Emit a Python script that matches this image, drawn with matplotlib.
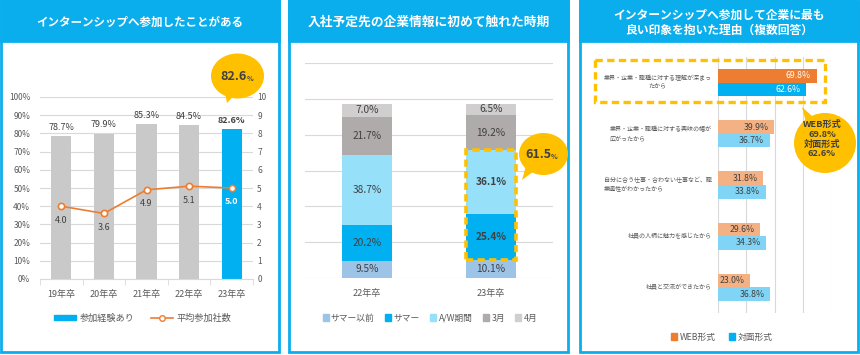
import numpy as np
import matplotlib.pyplot as plt
from matplotlib.patches import Rectangle, Ellipse, Polygon, Patch
from matplotlib.lines import Line2D

plt.rcParams["font.family"] = ["Noto Sans CJK JP", "DejaVu Sans"]

# panel 1: participation rate and avg. number of companies
years1 = ["19年卒", "20年卒", "21年卒", "22年卒", "23年卒"]
exp_rate = [78.7, 79.9, 85.3, 84.5, 82.6]
avg_companies = [4.0, 3.6, 4.9, 5.1, 5.0]

# panel 2: timing of first contact (stacked)
years2 = ["22年卒", "23年卒"]
periods = ["サマー以前", "サマー", "A/W期間", "3月", "4月"]
before_summer = [9.5, 10.1]
summer = [20.2, 25.4]
aw_period = [38.7, 36.1]
march = [21.7, 19.2]
april = [7.0, 6.5]

# panel 3: reasons (multiple answers)
reasons = [
    "業界・企業・職種に対する理解が深まっ\nたから",
    "業界・企業・職種に対する興味の幅が\n広がったから",
    "自分に合う仕事・合わない仕事など、職\n業適性がわかったから",
    "社員の人柄に魅力を感じたから",
    "社員と交流ができたから",
]
web = [69.8, 39.9, 31.8, 29.6, 23.0]
face = [62.6, 36.7, 33.8, 34.3, 36.8]

W, H = 860, 355
BLUE = "#0AAEEC"
GOLD = "#FFC000"
ORANGE = "#ED7D31"
CYAN = "#00B0F0"
TXT = "#595959"
DARK = "#404040"
GRID = "#D9D9D9"

fig = plt.figure(figsize=(W / 100, H / 100), dpi=100)


def px_axes(x0, y0, x1, y1, **kw):
    return fig.add_axes([x0 / W, 1 - y1 / H, (x1 - x0) / W, (y1 - y0) / H], **kw)


def fig_pt(x, y):
    return (x / W, 1 - y / H)


bg = fig.add_axes([0, 0, 1, 1], zorder=0)
bg.set_xlim(0, W)
bg.set_ylim(H, 0)
bg.axis("off")

ov = fig.add_axes([0, 0, 1, 1], zorder=10)
ov.set_xlim(0, W)
ov.set_ylim(H, 0)
ov.axis("off")
ov.patch.set_alpha(0)

panels = [(1, 279, ["インターンシップへ参加したことがある"], 8.3),
          (289, 568, ["入社予定先の企業情報に初めて触れた時期"], 9.2),
          (580, 858, ["インターンシップへ参加して企業に最も", "良い印象を抱いた理由（複数回答）"], 8.5)]
for x0, x1, title, fs in panels:
    bg.add_patch(Rectangle((x0, 1), x1 - x0, 351, fc="white", ec=BLUE, lw=2))
    bg.add_patch(Rectangle((x0, 1), x1 - x0, 40, fc=BLUE, ec=BLUE, lw=2))
    if len(title) == 1:
        bg.text((x0 + x1) / 2, 22, title[0], ha="center", va="center",
                color="white", fontsize=fs, fontweight="bold")
    else:
        bg.text((x0 + x1) / 2, 15, title[0], ha="center", va="center",
                color="white", fontsize=fs, fontweight="bold")
        bg.text((x0 + x1) / 2, 30, title[1], ha="center", va="center",
                color="white", fontsize=fs, fontweight="bold")


def bubble(cx, cy, w, h, tip, spread=14):
    ov.add_patch(Ellipse((cx, cy), w, h, fc=GOLD, ec="none"))
    ang = np.degrees(np.arctan2(tip[1] - cy, tip[0] - cx))
    pts = []
    for a in (ang - spread, ang + spread):
        r = np.radians(a)
        pts.append((cx + 0.42 * w * np.cos(r), cy + 0.42 * h * np.sin(r)))
    ov.add_patch(Polygon([pts[0], tip, pts[1]], closed=True, fc=GOLD, ec="none"))


# ---------------- panel 1 ----------------
ax1 = px_axes(40, 97, 253, 279, zorder=2)
ax1.patch.set_alpha(0)
x1 = np.arange(len(years1))
cols1 = ["#C9C9C9"] * (len(years1) - 1) + [CYAN]
ax1.bar(x1, exp_rate, width=0.47, color=cols1, zorder=2)
ax1.set_xlim(-0.5, len(years1) - 0.5)
ax1.set_ylim(0, 100)
ax1.set_yticks(range(0, 101, 10))
ax1.set_yticklabels([f"{v}%" for v in range(0, 101, 10)])
ax1.grid(axis="y", color=GRID, lw=0.8, zorder=0)
ax1.set_axisbelow(True)
for s in ["top", "right", "left"]:
    ax1.spines[s].set_visible(False)
ax1.spines["bottom"].set_color(GRID)
ax1.set_xticks(x1)
ax1.set_xticklabels(years1)
ax1.set_xticks(np.arange(-0.5, len(years1)), minor=True)
ax1.tick_params(axis="x", which="major", length=0, pad=8, labelsize=6.5, labelcolor=TXT)
ax1.tick_params(axis="x", which="minor", length=4, color=GRID)
ax1.tick_params(axis="y", length=0, pad=7, labelsize=6, labelcolor=TXT)
for i, v in enumerate(exp_rate):
    last = i == len(exp_rate) - 1
    ax1.annotate(f"{v}%", (i, v), xytext=(0, 3), textcoords="offset points",
                 ha="center", va="bottom", fontsize=6.5, color=DARK,
                 fontweight="bold" if last else "normal")

ax1r = ax1.twinx()
ax1r.set_ylim(0, 10)
ax1r.set_yticks(range(0, 11))
for s in ax1r.spines.values():
    s.set_visible(False)
ax1r.tick_params(axis="y", length=0, pad=3, labelsize=6, labelcolor=TXT)
ax1r.plot(x1, avg_companies, color=ORANGE, lw=1.2, marker="o", ms=4.5,
          mfc="white", mec=ORANGE, mew=1.2, zorder=3)
for i, v in enumerate(avg_companies):
    last = i == len(avg_companies) - 1
    ax1r.annotate(f"{v:.1f}", (i, v), xytext=(0, -10), textcoords="offset points",
                  ha="center", va="center", fontsize=6.5,
                  color="white" if last else DARK,
                  fontweight="bold" if last else "normal")

fig.legend(handles=[Patch(color=CYAN, label="参加経験あり"),
                    Line2D([], [], color=ORANGE, lw=1.2, marker="o", ms=4,
                           mfc="white", mec=ORANGE, label="平均参加社数")],
           loc="center", bbox_to_anchor=fig_pt(143, 318), ncol=2, frameon=False,
           fontsize=6.6, labelcolor=TXT, handlelength=2.4, handleheight=0.45,
           columnspacing=1.8, handletextpad=0.4)

bubble(237.5, 76, 53, 45, (227, 103))
ov.text(246.5, 77, f"{exp_rate[-1]}", ha="right", va="center", fontsize=9,
        fontweight="bold", color=DARK)
ov.text(246.5, 78.5, "%", ha="left", va="center", fontsize=5,
        fontweight="bold", color=DARK)

# ---------------- panel 2 ----------------
ax2 = px_axes(305, 63, 553, 278, zorder=2)
ax2.patch.set_alpha(0)
x2 = np.arange(len(years2))
stack = [before_summer, summer, aw_period, march, april]
cols2 = ["#9DC3E6", CYAN, "#97E0FA", "#AFABAB", "#D0CECE"]
bottom = np.zeros(len(years2))
for k, (vals, c, name) in enumerate(zip(stack, cols2, periods)):
    ax2.bar(x2, vals, bottom=bottom, width=0.4, color=c, label=name, zorder=2)
    for i, v in enumerate(vals):
        bold = i == 1 and k in (1, 2)
        ax2.text(i, bottom[i] + v / 2, f"{v}%", ha="center", va="center",
                 fontsize=7.3, color=DARK, fontweight="bold" if bold else "normal",
                 zorder=3)
    bottom += np.array(vals)
ax2.set_xlim(-0.5, len(years2) - 0.5)
ax2.set_ylim(0, 120)
ax2.set_yticks(range(0, 121, 20))
ax2.set_yticklabels([])
ax2.grid(axis="y", color=GRID, lw=0.8, zorder=0)
ax2.set_axisbelow(True)
for s in ax2.spines.values():
    s.set_visible(False)
ax2.set_xticks(x2)
ax2.set_xticklabels(years2)
ax2.tick_params(axis="both", length=0)
ax2.tick_params(axis="x", pad=8, labelsize=6.5, labelcolor=TXT)

# dashed box around summer + A/W of the latest year
lo = before_summer[1]
hi = before_summer[1] + summer[1] + aw_period[1]
ax2.add_patch(Rectangle((1 - 0.2, lo), 0.4, hi - lo, fill=False, ec=GOLD, lw=2.6,
                        ls=(0, (2.0, 1.2)), zorder=4, clip_on=False))

fig.legend(handles=[Patch(color=c, label=n) for c, n in zip(cols2, periods)],
           loc="center", bbox_to_anchor=fig_pt(430, 318), ncol=5, frameon=False,
           fontsize=6.3, labelcolor=TXT, handlelength=0.7, handleheight=0.7,
           columnspacing=1.2, handletextpad=0.25)

bubble(543.5, 154, 49, 42, (522, 180), spread=16)
ov.text(551, 155, f"{summer[1] + aw_period[1]:.1f}", ha="right", va="center",
        fontsize=9, fontweight="bold", color=DARK)
ov.text(551, 156.5, "%", ha="left", va="center", fontsize=5,
        fontweight="bold", color=DARK)

# ---------------- panel 3 ----------------
ax3 = px_axes(718, 57, 831, 313, zorder=2)
ax3.patch.set_alpha(0)
y3 = np.arange(len(reasons))
web_cols = [ORANGE] + ["#F4B183"] * (len(reasons) - 1)
face_cols = [CYAN] + ["#80D4F6"] * (len(reasons) - 1)
ax3.barh(y3 - 0.132, web, height=0.264, color=web_cols, zorder=2)
ax3.barh(y3 + 0.132, face, height=0.264, color=face_cols, zorder=2)
ax3.set_xlim(0, 80)
ax3.set_ylim(len(reasons) - 0.5, -0.5)
ax3.set_xticks(range(0, 81, 20))
ax3.set_xticklabels([])
ax3.set_yticks([])
ax3.grid(axis="x", color=GRID, lw=0.8, zorder=0)
ax3.set_axisbelow(True)
ax3.tick_params(length=0)
for s in ax3.spines.values():
    s.set_visible(False)
for i in range(len(reasons)):
    lab_col = "white" if i == 0 else DARK
    ax3.annotate(f"{web[i]}%", (web[i], i - 0.132), xytext=(-4, 0),
                 textcoords="offset points", ha="right", va="center",
                 fontsize=6.3, color=lab_col, zorder=3)
    ax3.annotate(f"{face[i]}%", (face[i], i + 0.132), xytext=(-4, 0),
                 textcoords="offset points", ha="right", va="center",
                 fontsize=6.3, color=lab_col, zorder=3)
    ax3.annotate(reasons[i], (0, i), xytext=(-4.5, 0), textcoords="offset points",
                 ha="right", va="center", fontsize=4.35, color=TXT,
                 multialignment="center" if i == 0 else "left", linespacing=1.6,
                 annotation_clip=False)

ov.add_patch(Rectangle((595, 60), 230, 42, fill=False, ec=GOLD, lw=2.4,
                       ls=(0, (2.2, 1.3))))

fig.legend(handles=[Patch(color=ORANGE, label="WEB形式"),
                    Patch(color=CYAN, label="対面形式")],
           loc="center", bbox_to_anchor=fig_pt(722, 337), ncol=2, frameon=False,
           fontsize=6.3, labelcolor=TXT, handlelength=0.7, handleheight=0.7,
           columnspacing=1.5, handletextpad=0.3)

bubble(825, 143, 62, 60, (802, 107), spread=12)
ov.text(822, 139, f"WEB形式\n{web[0]}%\n対面形式\n{face[0]}%", ha="center",
        va="center", fontsize=6.6, fontweight="bold", color=DARK, linespacing=1.1)

fig.savefig("out.png", dpi=100)
